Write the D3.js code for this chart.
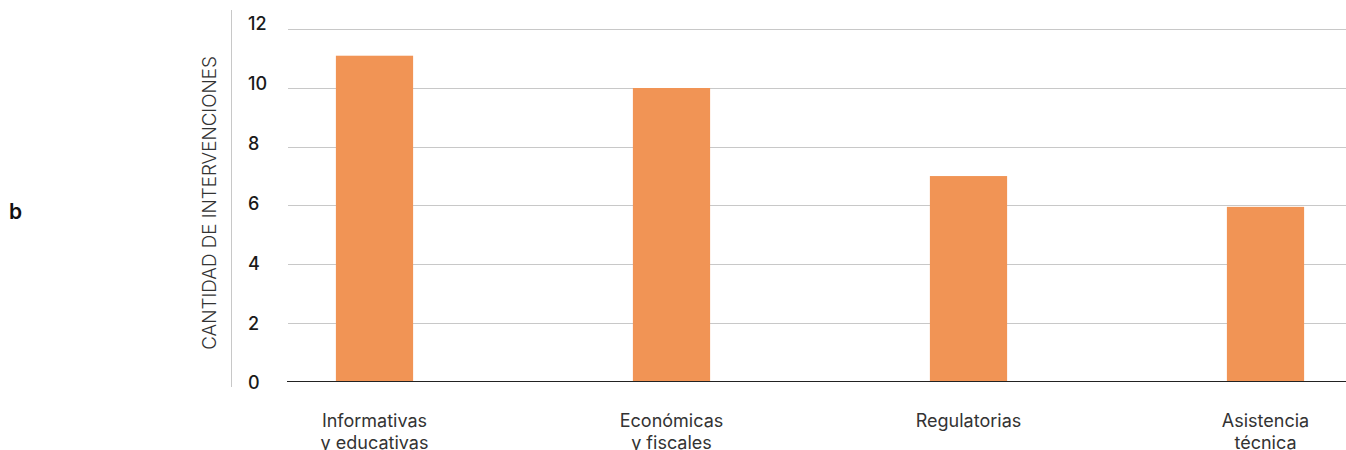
<!DOCTYPE html>
<html><head><meta charset="utf-8">
<script src="https://cdn.jsdelivr.net/npm/d3@7"></script>
<style>
body{margin:0;background:#fff;}
svg{display:block;font-family:Inter,"Noto Sans",sans-serif;}
</style></head>
<body><svg id="c" width="1346" height="450"></svg>
<script>
const categories = [["Informativas","y educativas"],["Económicas","y fiscales"],["Regulatorias"],["Asistencia","técnica"]];
const values = [11.1, 10, 7, 5.95];
const yTicks = [0, 2, 4, 6, 8, 10, 12];
const yTitle = "CANTIDAD DE INTERVENCIONES";
const panelLabel = "b";

const svg = d3.select("#c");
const keys = categories.map(c => c.join(" "));
const x = d3.scaleBand().domain(keys).range([226, 1414]).paddingInner(0.74).paddingOuter(0.37);
const y = d3.scaleLinear().domain([0, 12]).range([381.5, 29.3]);
const yLab = d3.scaleLinear().domain([0, 12]).range([382.5, 23.5]);

// gridlines
svg.append("g").selectAll("line").data(yTicks.filter(d => d > 0)).join("line")
  .attr("x1", 288).attr("x2", 1346).attr("y1", d => Math.round(y(d)) + 0.5).attr("y2", d => Math.round(y(d)) + 0.5)
  .attr("stroke", "#c8c8c8").attr("stroke-width", 1);

// bars
svg.append("g").selectAll("rect").data(values).join("rect")
  .attr("x", (d, i) => x(keys[i])).attr("width", x.bandwidth())
  .attr("y", d => y(d)).attr("height", d => y(0) - y(d))
  .attr("fill", "#f19455");

// zero line
svg.append("line").attr("x1", 287).attr("x2", 1346).attr("y1", y(0)).attr("y2", y(0))
  .attr("stroke", "#222").attr("stroke-width", 1.2);

// y axis labels via d3 axis
const yAxis = d3.axisLeft(yLab).tickValues(yTicks).tickSize(0).tickPadding(0);
const ga = svg.append("g").attr("transform", "translate(248,0)").call(yAxis);
ga.select(".domain").remove();
ga.selectAll("text").attr("text-anchor", "start").attr("font-size", 18).attr("font-weight", 500)
  .attr("fill", "#1a1a1a").attr("font-family", "Inter,sans-serif").attr("dy", "0.36em");

// vertical line
svg.append("line").attr("x1", 231.5).attr("x2", 231.5).attr("y1", 10).attr("y2", 387)
  .attr("stroke", "#c8c8c8").attr("stroke-width", 1);

// y title
svg.append("text").attr("transform", "translate(216,203) rotate(-90)")
  .attr("text-anchor", "middle").attr("font-size", 18.8).attr("font-weight", 300)
  .attr("fill", "#333").text(yTitle);

// x labels
const xl = svg.append("g").selectAll("text").data(categories).join("text")
  .attr("x", (d, i) => x(keys[i]) + x.bandwidth() / 2)
  .attr("y", 427).attr("text-anchor", "middle").attr("font-size", 18)
  .attr("font-weight", 400).attr("fill", "#333");
xl.selectAll("tspan").data(d => d).join("tspan")
  .attr("x", function(){ return this.parentNode.getAttribute("x"); })
  .attr("dy", (d, i) => i === 0 ? 0 : 22).text(d => d);

// panel label
svg.append("text").attr("x", 9).attr("y", 219).attr("font-size", 21).attr("font-weight", 600)
  .attr("fill", "#111").text(panelLabel);
</script></body></html>
